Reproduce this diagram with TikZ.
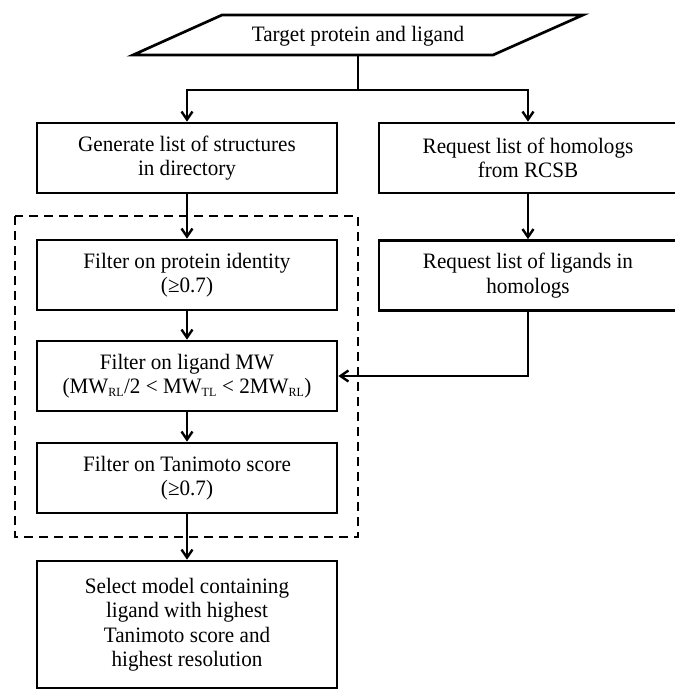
\documentclass[tikz,border=0pt]{standalone}
\usepackage{fontspec}
\setmainfont[FakeStretch=0.96]{Liberation Serif}
\usetikzlibrary{arrows.meta}
\tikzset{
  txt/.style={font=\fontsize{22}{24.5}\selectfont},
  box/.style={draw, line width=2.7pt, minimum width=300pt, minimum height=70pt, align=center, inner sep=0pt, txt},
  rbox/.style={box, minimum width=298pt},
  conn/.style={line width=2.6pt},
  arr/.style={conn, -{Straight Barb[length=8pt,width=11pt,line width=2.4pt]}},
  group/.style={draw, line width=2.6pt, dash pattern=on 9pt off 6pt},
}
\newcommand{\sbs}[1]{\textsubscript{\fontsize{12.5}{12.5}\selectfont #1}}
\begin{document}
\begin{tikzpicture}[x=1pt,y=-1pt]
\useasboundingbox (0,0) rectangle (675,689);
\clip (0,0) rectangle (675,689);
% input (parallelogram)
\draw[line width=2.7pt, line join=miter] (222,15) -- (583,15) -- (493,55) -- (133,55) -- cycle;
\node[minimum width=271pt, minimum height=40pt, inner sep=0pt, txt] (in) at (358,36) {Target protein and ligand};
% boxes
\node[box] (gen) at (187,158) {Generate list of structures\\in directory};
\node[rbox] (rh) at (528,158) {Request list of homologs\\from RCSB};
\node[box] (fp) at (187,275) {Filter on protein identity\\(≥0.7)};
\node[rbox] (rl) at (528,275.5) {Request list of ligands in\\homologs};
\node[box] (mw) at (187,376) {Filter on ligand MW\\(MW\sbs{RL}/2 < MW\sbs{TL} < 2MW\sbs{RL})};
\node[box] (tan) at (187,478) {Filter on Tanimoto score\\(≥0.7)};
\node[box, minimum height=127pt] (fin) at (187,624.5) {Select model containing\\ligand with highest\\Tanimoto score and\\highest resolution};
% dashed group
\draw[group] (15,216) rectangle (358,537);
% connectors
\coordinate (split) at (358,90);
\draw[conn] (in.south) -- (split);
\draw[arr] (split) -| (gen.north);
\draw[arr] (split) -| (rh.north);
\draw[arr] (gen.south) -- (fp.north);
\draw[arr] (fp.south) -- (mw.north);
\draw[arr] (mw.south) -- (tan.north);
\draw[arr] (tan.south) -- (fin.north);
\draw[arr] (rh.south) -- (rl.north);
\draw[arr] (rl.south) |- (mw.east);
\end{tikzpicture}
\end{document}
